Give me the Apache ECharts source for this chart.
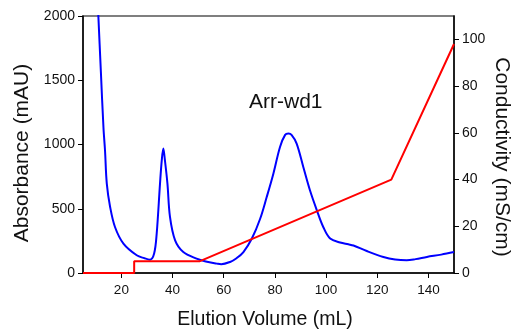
<!DOCTYPE html>
<html>
<head>
<meta charset="utf-8">
<script src="https://cdn.jsdelivr.net/npm/echarts@6/dist/echarts.min.js"></script>
<style>
html,body{margin:0;padding:0;background:#fff;}
#c{width:515px;height:333px;}
</style>
</head>
<body>
<div id="c"></div>
<script>
// Absorbance (mAU) trace
const absX = [10, 11, 12, 13, 13.6, 14.3, 15.6, 17.5, 20.8, 26.0, 29, 31.2, 32.8, 33.8, 35.1, 35.8, 36.4, 37.0, 38.0, 39.0, 41.0, 44.2, 49.4, 53, 57.3, 59, 62.5, 65, 67.7, 71.0, 74.2, 76.8, 79.4, 82.0, 84, 85.3, 86.5, 88.5, 91.1, 93.7, 96.4, 98.9, 101.6, 105.5, 108.7, 110.7, 115.9, 122.4, 127, 131.5, 135, 139.4, 145, 150];
const absY = [2450, 2000, 1560, 1130, 955, 696, 514, 358, 229, 138, 115, 104, 151, 307, 696, 880, 968, 880, 696, 436, 254, 163, 112, 90, 73, 68, 86, 115, 163, 268, 420, 591, 773, 981, 1075, 1085, 1075, 1007, 825, 644, 488, 358, 268, 237, 223, 214, 171, 125, 105, 99, 108, 125, 143, 163];
// Conductivity (mS/cm) trace
const condX = [5, 25, 25, 50.5, 125.5, 150];
const condY = [0, 0, 5, 5, 40, 98];
// Tick labels
const xTicks = [20, 40, 60, 80, 100, 120, 140];
const yLeftTicks = [0, 500, 1000, 1500, 2000];
const yRightTicks = [0, 20, 40, 60, 80, 100];

const FONT = 'Liberation Sans, Arial, sans-serif';
const chart = echarts.init(document.getElementById('c'), null, {renderer: 'canvas'});
const axisLine = {show: true, lineStyle: {color: '#000', width: 1.5}};
const axisTick = {show: true, inside: false, length: 5, lineStyle: {color: '#000', width: 1}};
const fmt = v => String(v);
chart.setOption({
  animation: false,
  backgroundColor: '#fff',
  grid: {left: 83, right: 61, top: 16, bottom: 60, show: true, borderColor: '#555', borderWidth: 1.5, containLabel: false},
  xAxis: {
    type: 'value', min: 5, max: 150,
    axisLine: axisLine,
    axisTick: Object.assign({}, axisTick, {customValues: xTicks}),
    axisLabel: {customValues: xTicks, formatter: fmt, color: '#111', fontSize: 13.5, fontFamily: FONT, margin: 10},
    splitLine: {show: false}
  },
  yAxis: [{
    type: 'value', min: 0, max: 2000, interval: 500, position: 'left',
    axisLine: axisLine,
    axisTick: Object.assign({}, axisTick, {customValues: yLeftTicks}),
    axisLabel: {customValues: yLeftTicks, formatter: fmt, color: '#111', fontSize: 14, fontFamily: FONT, margin: 8},
    splitLine: {show: false}
  }, {
    type: 'value', min: 0, max: 110, position: 'right',
    axisLine: axisLine,
    axisTick: Object.assign({}, axisTick, {customValues: yRightTicks}),
    axisLabel: {customValues: yRightTicks, formatter: fmt, color: '#111', fontSize: 14, fontFamily: FONT, margin: 8},
    splitLine: {show: false}
  }],
  series: [{
    type: 'line', yAxisIndex: 0, showSymbol: false, smooth: 0.35, clip: true,
    lineStyle: {color: '#0000ff', width: 2},
    data: absX.map((x, i) => [x, absY[i]]),
    z: 3
  }, {
    type: 'line', yAxisIndex: 1, showSymbol: false, smooth: false, clip: true,
    lineStyle: {color: '#ff0000', width: 2},
    data: condX.map((x, i) => [x, condY[i]]),
    z: 4
  }],
  graphic: [
    {type: 'text', x: 22, y: 153, rotation: Math.PI / 2,
     style: {text: 'Absorbance (mAU)', fill: '#111', font: '21px ' + FONT, textAlign: 'center', textVerticalAlign: 'middle'}},
    {type: 'text', x: 502, y: 157, rotation: -Math.PI / 2,
     style: {text: 'Conductivity (mS/cm)', fill: '#111', font: '21px ' + FONT, textAlign: 'center', textVerticalAlign: 'middle'}},
    {type: 'text', x: 265, y: 320,
     style: {text: 'Elution Volume (mL)', fill: '#111', font: '19.5px ' + FONT, textAlign: 'center', textVerticalAlign: 'middle'}},
    {type: 'text', x: 249, y: 102,
     style: {text: 'Arr-wd1', fill: '#111', font: '21px ' + FONT, textAlign: 'left', textVerticalAlign: 'middle'}}
  ]
});
</script>
</body>
</html>
